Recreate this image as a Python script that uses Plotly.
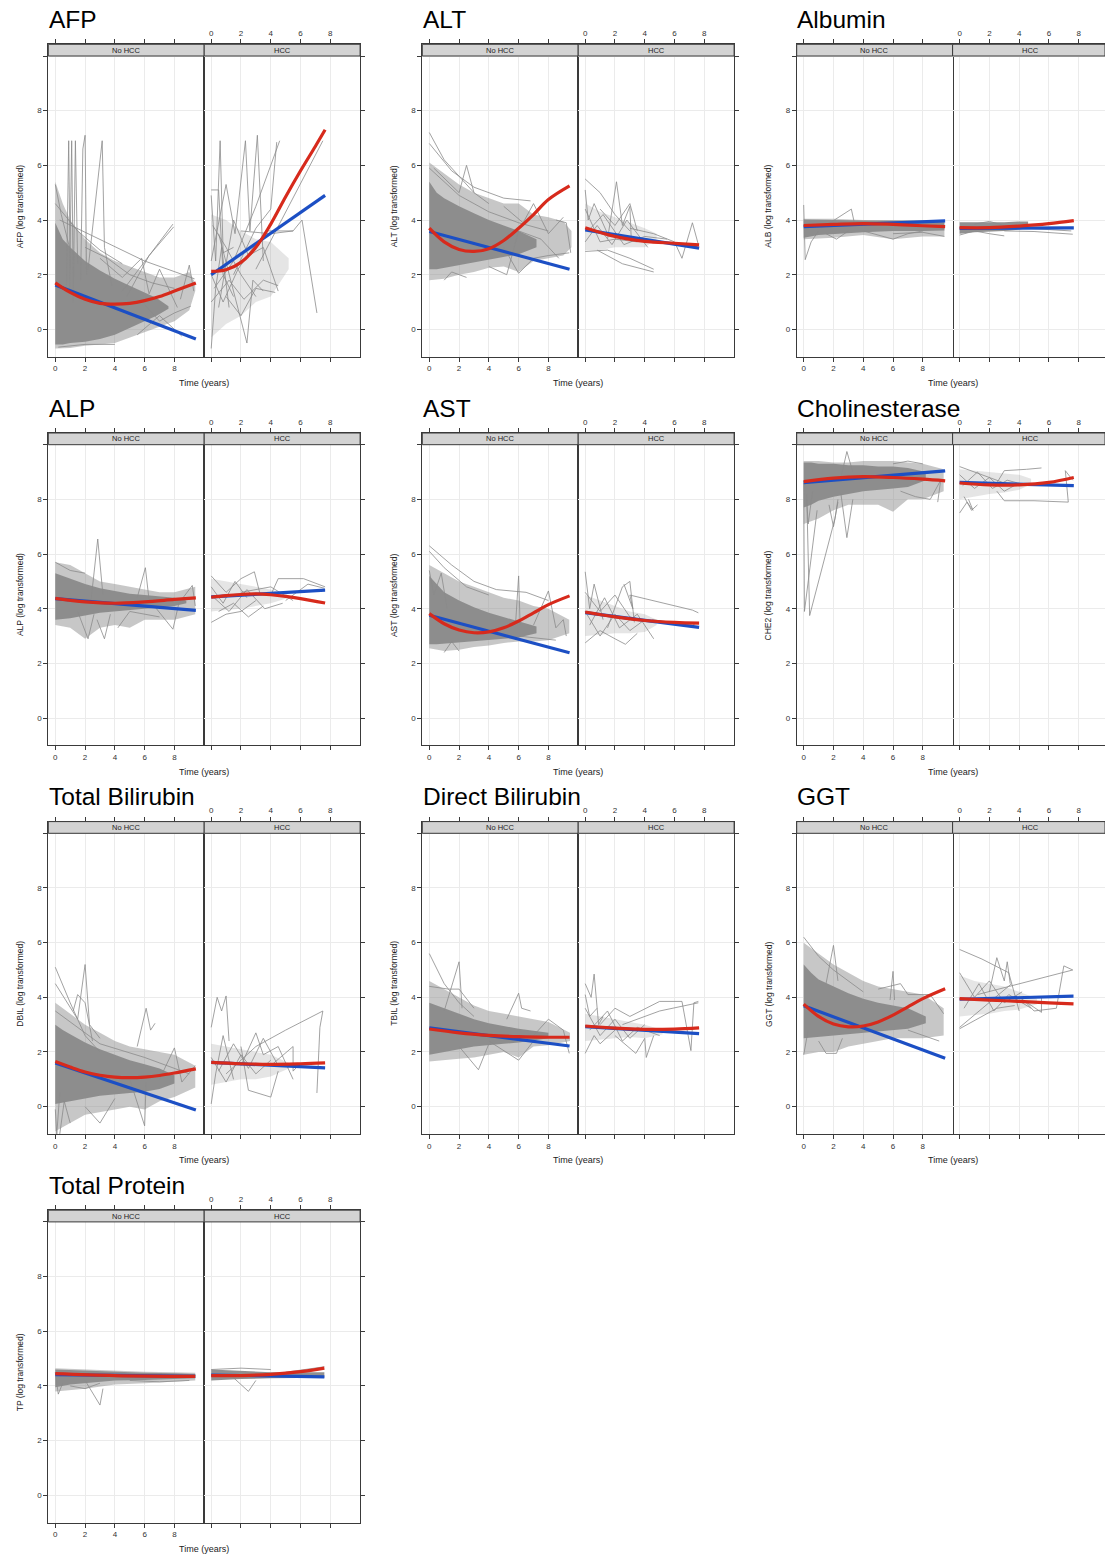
import plotly.graph_objects as go

W, H = 1105, 1557

# ---------------- categories / ticks ----------------
time_ticks = [0, 2, 4, 6, 8]
value_ticks = [0, 2, 4, 6, 8, 10]
value_tick_text = ["0", "2", "4", "6", "8", ""]
groups = ["No HCC", "HCC"]
panel_titles = ["AFP", "ALT", "Albumin", "ALP", "AST", "Cholinesterase",
                "Total Bilirubin", "Direct Bilirubin", "GGT", "Total Protein"]
y_titles = ["AFP (log transformed)", "ALT (log transformed)", "ALB (log transformed)",
            "ALP (log transformed)", "AST (log transformed)", "CHE2 (log transformed)",
            "DBIL (log transformed)", "TBIL (log transformed)", "GGT (log transformed)",
            "TP (log transformed)"]

# ---------------- data ----------------
# band = (time, low, high); paths = individual trajectories [(time, value), ...]
# linear / quad = fitted mean curves [(time, value), ...]

# AFP
afp_no_outer = [(0, -0.7, 5.4), (0.5, -0.7, 4.6), (1, -0.68, 4.0), (2, -0.6, 3.3), (3, -0.55, 2.8), (4, -0.5, 2.5),
                (5, -0.3, 2.3), (6, -0.1, 2.1), (7, 0.1, 1.9), (8, 0.3, 1.9), (9, 0.7, 2.1), (9.4, 1.4, 1.7)]
afp_no_core = [(0, -0.55, 3.9), (0.5, -0.55, 3.3), (1, -0.5, 3.0), (2, -0.45, 2.5), (3, -0.35, 2.15),
               (4, -0.2, 1.85), (5, 0.05, 1.6), (6, 0.3, 1.35), (6.8, 0.5, 1.15), (7.6, 0.75, 0.85)]
afp_no_paths = [
    [(0.75, 1.6), (0.9, 6.9), (1.0, 2.2)],
    [(0.95, 1.4), (1.1, 6.9), (1.2, 1.9)],
    [(1.2, 1.0), (1.35, 6.9), (1.5, 2.4)],
    [(1.7, 1.8), (1.85, 6.6), (2.0, 7.1), (2.1, 2.0)],
    [(2.2, 2.2), (3.15, 6.9), (3.3, 3.0), (3.8, 1.6)],
    [(0.3, 4.0), (3, 3.3), (6, 2.5), (9.35, 1.85)],
    [(4.5, 1.4), (6, 2.5), (7.9, 3.85)],
    [(4.8, 1.2), (6.3, 2.7), (7.95, 3.75)],
    [(8.4, 1.1), (9.0, 2.35), (9.3, 1.4)],
    [(0, 5.3), (0.4, 4.2), (1.0, 2.9)],
    [(3, 2.6), (4.5, 1.9), (5.8, 2.6), (6.3, 1.3), (7, 2.2), (8.2, 0.8)],
    [(0.2, -0.65), (2, -0.55), (4, -0.55)],
    [(5.5, -0.2), (7, 0.5), (8.5, -0.25)],
    [(6, 0.9), (7, 0.3), (8, 0.6), (9.1, 0.85)],
    [(0, 4.6), (1.5, 3.6), (3, 2.9), (4.5, 2.4)],
    [(2, 3.0), (3.5, 2.6), (5, 2.0), (6.5, 1.7), (8, 1.5)],
]
afp_no_linear = [(0, 1.62), (9.44, -0.35)]
afp_no_quad = [(0, 1.7), (1, 1.35), (2, 1.1), (3, 0.95), (4, 0.92), (5, 0.95), (6, 1.05), (7, 1.2), (8, 1.4), (9.44, 1.7)]

afp_hcc_outer = [(0, -0.3, 4.2), (1, 0.2, 4.0), (2, 0.5, 3.6), (3, 1.0, 3.3), (4, 1.2, 3.2), (5.2, 2.2, 2.6)]
afp_hcc_core = []
afp_hcc_paths = [
    [(0, 5.1), (0.5, 5.1), (0.8, 2.0), (1.5, 1.2)],
    [(0, 4.9), (0.3, 2.5), (0.6, 6.9), (0.8, 2.8), (1.5, 3.0)],
    [(0, -0.7), (0.3, 1.5), (0.7, 3.0), (1.2, 0.8)],
    [(0, 2.5), (1.0, 5.3), (1.6, 3.5), (2.3, 6.9), (2.6, 3.6), (3.1, 7.1), (3.5, 2.5)],
    [(0.2, 1.5), (1.5, 2.5), (3, 4.5), (4.6, 6.9)],
    [(1.5, 2.0), (3, 3.7), (4.0, 4.4), (4.4, 6.85)],
    [(0.5, 3.5), (2.4, -0.5), (2.8, 1.8), (3.5, 1.4)],
    [(3.0, 2.2), (5.0, 4.3), (7.5, 6.9)],
    [(2.0, 3.6), (4.0, 3.5), (5.5, 3.6), (6.1, 4.0), (7.1, 0.6)],
    [(1.0, 1.2), (2.0, 0.5), (3.0, 1.5), (4.3, 1.35)],
    [(0, 1.0), (1.2, 1.8), (2.2, 1.1), (3.5, 1.8), (4.5, 1.6)],
    [(0.1, 3.8), (1.0, 3.0), (2.0, 2.0), (3.0, 1.2)],
    [(0.5, 0.8), (1.5, 4.0), (2.5, 2.7), (3.5, 3.0), (4.5, 1.4)],
    [(0, 2.0), (0.8, 1.0), (1.8, 2.2), (2.7, 2.9), (3.8, 3.6), (5.5, 3.6)],
]
afp_hcc_linear = [(0, 2.0), (7.65, 4.9)]
afp_hcc_quad = [(0, 2.12), (1, 2.18), (2, 2.45), (3, 3.0), (4, 3.85), (5, 4.85), (6, 5.8), (7, 6.7), (7.65, 7.3)]

# ALT
alt_no_outer = [(0, 1.8, 6.1), (1, 1.85, 5.7), (2, 2.0, 5.3), (3, 2.1, 5.0), (4, 2.25, 4.8), (5, 2.3, 4.6),
                (6, 2.1, 4.6), (7, 2.5, 4.2), (8, 2.6, 4.1), (9, 2.7, 3.95), (9.55, 3.0, 3.6)]
alt_no_core = [(0, 2.2, 5.4), (0.5, 2.2, 5.0), (1, 2.25, 4.8), (2, 2.35, 4.5), (3, 2.45, 4.25),
               (4, 2.55, 4.0), (5, 2.65, 3.8), (6, 2.75, 3.6), (7.2, 3.0, 3.3)]
alt_no_paths = [
    [(0, 7.2), (1, 6.2), (2, 5.6), (3, 5.0), (4, 4.6)],
    [(0, 6.8), (1.5, 5.8), (3, 5.2), (5, 4.8), (6.8, 4.7)],
    [(0.3, 5.9), (2.0, 5.0), (2.5, 6.0), (3, 5.0)],
    [(8.5, 4.0), (9.2, 3.9), (9.5, 2.8)],
    [(5, 3.0), (6, 2.05), (7, 2.6), (8, 2.7), (9.4, 2.8)],
    [(1, 1.8), (1.5, 2.1), (2.5, 1.9)],
    [(4, 2.3), (5.2, 2.0), (6.0, 3.6), (7.5, 3.3), (8.7, 2.6)],
    [(5, 4.5), (6.3, 3.9), (7, 4.6), (8, 3.5), (9.0, 4.1)],
    [(0, 5.9), (2, 4.9), (4, 4.3), (6, 3.9), (8, 3.6)],
]
alt_no_linear = [(0, 3.58), (9.42, 2.2)]
alt_no_quad = [(0, 3.7), (1, 3.2), (2, 2.92), (3, 2.85), (4, 2.95), (5, 3.25), (6, 3.7), (7, 4.2), (8, 4.75), (9.42, 5.25)]

alt_hcc_outer = [(0, 2.9, 4.6), (1, 2.9, 4.3), (2, 3.0, 4.1), (3, 3.0, 3.9), (4, 3.0, 3.7), (4.8, 3.3, 3.5)]
alt_hcc_core = []
alt_hcc_paths = [
    [(0, 5.5), (1.0, 5.0), (2.0, 4.2), (3.0, 3.6)],
    [(0, 5.1), (0.2, 4.0), (0.6, 4.6), (1.5, 3.5)],
    [(0, 2.85), (1.5, 2.9), (3, 2.6), (4.6, 2.2)],
    [(0.8, 2.9), (2.5, 2.4), (4.6, 2.1)],
    [(1.5, 3.3), (2.1, 5.4), (2.5, 3.8), (3.0, 4.5), (3.1, 3.2)],
    [(1.0, 4.4), (2.0, 3.8), (3.0, 4.6), (3.5, 3.6)],
    [(3.0, 3.7), (4.6, 3.5), (6.0, 3.2), (6.5, 2.6), (7.2, 3.9), (7.6, 3.1)],
    [(0, 4.4), (1, 3.2), (2, 3.3), (3.5, 3.2)],
    [(0.2, 3.6), (1.2, 4.2), (2.6, 3.1), (4.0, 3.4), (5.5, 3.3)],
    [(0, 3.2), (0.8, 3.8), (1.8, 3.1), (2.8, 4.0), (4.2, 3.0)],
]
alt_hcc_linear = [(0, 3.64), (7.65, 2.97)]
alt_hcc_quad = [(0, 3.72), (2, 3.4), (4, 3.22), (6, 3.15), (7.65, 3.09)]

# Albumin
alb_no_outer = [(0, 3.3, 4.05), (2, 3.35, 4.05), (4, 3.45, 4.0), (6, 3.3, 4.0), (8, 3.4, 4.0), (9.45, 3.4, 3.95)]
alb_no_core = [(0, 3.35, 4.02), (1, 3.45, 4.0), (2, 3.5, 4.0), (4, 3.55, 3.98), (6, 3.6, 3.98), (8, 3.6, 3.96), (9.45, 3.62, 3.92)]
alb_no_paths = [
    [(0, 4.55), (0.05, 3.6), (0.1, 2.55), (0.5, 3.2), (1.0, 3.6)],
    [(1.2, 3.7), (3.2, 4.4), (3.4, 3.9)],
    [(4, 3.6), (6, 3.3), (7, 3.5), (8, 3.6)],
    [(6, 3.5), (8, 3.55), (9.45, 3.4)],
    [(1.5, 3.5), (2.2, 3.3), (3, 3.6)],
]
alb_no_linear = [(0, 3.76), (9.5, 3.97)]
alb_no_quad = [(0, 3.8), (2, 3.84), (4, 3.87), (6, 3.84), (8, 3.79), (9.5, 3.76)]

alb_hcc_outer = []
alb_hcc_core = [(0, 3.5, 3.92), (1, 3.55, 3.92), (2, 3.58, 3.92), (3, 3.6, 3.92), (4, 3.65, 3.95), (4.6, 3.7, 3.95)]
alb_hcc_paths = [
    [(3, 3.6), (5, 3.58), (7.6, 3.48)],
    [(0, 3.45), (1, 3.6), (2, 3.5), (3, 3.42)],
    [(1, 3.85), (2, 3.95), (3, 3.8)],
    [(4.5, 3.7), (6, 3.65), (7.5, 3.6)],
]
alb_hcc_linear = [(0, 3.69), (7.67, 3.71)]
alb_hcc_quad = [(0, 3.72), (2, 3.72), (4, 3.78), (6, 3.87), (7.67, 3.98)]

# ALP
alp_no_outer = [(0, 3.4, 5.7), (1, 3.3, 5.6), (2, 2.9, 5.3), (3, 3.3, 5.0), (4, 3.4, 4.9), (5, 3.3, 4.8),
                (6, 3.6, 4.7), (7, 3.6, 4.6), (8, 3.6, 4.6), (9.4, 3.8, 4.8)]
alp_no_core = [(0, 3.6, 5.3), (1, 3.65, 5.1), (2, 3.75, 4.9), (3, 3.85, 4.75), (4, 3.9, 4.65), (5, 3.95, 4.55),
               (6, 4.0, 4.5), (7, 4.05, 4.45), (8, 4.1, 4.4), (8.8, 4.2, 4.3)]
alp_no_paths = [
    [(2.4, 4.3), (2.85, 6.55), (3.2, 4.5)],
    [(5.5, 4.4), (6.05, 5.5), (6.3, 4.3)],
    [(1.5, 3.9), (2.2, 2.9), (2.6, 3.8)],
    [(2.8, 3.6), (3.3, 2.9), (3.7, 3.8)],
    [(6.5, 4.2), (7.9, 3.25), (8.3, 4.2), (9.2, 4.85), (9.4, 4.1)],
    [(4.2, 3.3), (5, 3.9), (7, 3.7)],
    [(0, 5.7), (1, 5.4), (2, 5.3)],
]
alp_no_linear = [(0, 4.37), (9.44, 3.94)]
alp_no_quad = [(0, 4.38), (2, 4.25), (4, 4.2), (6, 4.25), (8, 4.34), (9.44, 4.4)]

alp_hcc_outer = [(0, 3.9, 5.1), (1, 3.95, 5.0), (2, 4.0, 4.9), (3, 4.1, 4.8), (4, 4.2, 4.7), (5.2, 4.4, 4.5)]
alp_hcc_core = []
alp_hcc_paths = [
    [(0, 5.2), (1, 4.6), (2, 5.1), (2.9, 5.35), (3.3, 4.5)],
    [(0, 3.5), (1.0, 3.8), (2.0, 3.9), (3.0, 4.3)],
    [(0.5, 3.9), (1.5, 4.2), (2.5, 3.7), (3.5, 4.1)],
    [(4.0, 4.5), (4.5, 5.1), (6.2, 5.1), (7.65, 4.8)],
    [(2.0, 4.6), (4.0, 4.8), (5.5, 4.3)],
    [(0, 4.8), (0.8, 4.2), (1.6, 5.0), (2.4, 4.4)],
    [(5, 4.3), (6.5, 4.9), (7.6, 4.75)],
    [(0.2, 4.4), (1.2, 3.9), (2.4, 4.7), (3.6, 4.0), (4.8, 4.2)],
]
alp_hcc_linear = [(0, 4.43), (7.65, 4.68)]
alp_hcc_quad = [(0, 4.42), (1, 4.48), (2, 4.52), (3, 4.54), (4, 4.51), (5, 4.45), (6, 4.37), (7.65, 4.21)]

# AST
ast_no_outer = [(0, 2.55, 5.6), (1, 2.45, 5.3), (2, 2.5, 5.0), (3, 2.6, 4.8), (4, 2.65, 4.6), (5, 2.75, 4.4),
                (6, 2.8, 4.3), (7, 2.8, 4.1), (8, 2.85, 4.0), (9.4, 3.1, 3.6)]
ast_no_core = [(0, 2.7, 5.2), (0.5, 2.7, 4.9), (1, 2.7, 4.6), (2, 2.75, 4.3), (3, 2.8, 4.05), (4, 2.85, 3.85),
               (5, 2.9, 3.7), (6, 2.95, 3.55), (7.2, 3.1, 3.35)]
ast_no_paths = [
    [(0, 6.3), (1.5, 5.6), (3, 5.0), (4.5, 4.7), (6.5, 4.6), (8, 4.3)],
    [(0, 6.1), (1, 5.5), (2.5, 4.8), (4, 4.5)],
    [(5.8, 3.5), (6.0, 5.2), (6.1, 3.4)],
    [(7.0, 3.4), (8.0, 4.65), (8.5, 3.3), (9.0, 3.6), (9.2, 3.0)],
    [(1, 2.4), (1.5, 2.8), (2, 2.45)],
    [(6, 3.0), (7.5, 2.9), (8.5, 2.85)],
    [(0, 5.4), (0.3, 4.5), (0.8, 5.3), (1.2, 4.0)],
]
ast_no_linear = [(0, 3.76), (9.42, 2.39)]
ast_no_quad = [(0, 3.82), (1, 3.45), (2, 3.22), (3, 3.12), (4, 3.15), (5, 3.3), (6, 3.55), (7, 3.85), (8, 4.15), (9.42, 4.47)]

ast_hcc_outer = [(0, 3.0, 4.5), (1, 3.05, 4.3), (2, 3.1, 4.1), (3, 3.1, 3.9), (4, 3.15, 3.8), (4.8, 3.4, 3.6)]
ast_hcc_core = []
ast_hcc_paths = [
    [(0, 5.35), (0.3, 4.0), (0.6, 4.9), (1.2, 3.6)],
    [(0, 2.75), (1, 3.2), (2, 2.9), (2.7, 2.7), (3.5, 3.1)],
    [(1.5, 3.3), (2.5, 4.8), (3.0, 5.0), (3.3, 3.5)],
    [(2.6, 4.9), (3.2, 4.0), (3.0, 4.5), (7.2, 3.95), (7.6, 3.85)],
    [(0, 4.6), (1, 3.9), (2, 4.5), (3, 3.7), (4.6, 3.5)],
    [(0.3, 3.4), (1.3, 4.4), (2.3, 3.3), (3.5, 3.8), (4.6, 2.9)],
    [(0, 3.9), (1, 3.0), (2, 3.8), (3, 3.2), (4, 3.6)],
    [(4.5, 3.6), (6, 3.5), (7.2, 3.4), (7.6, 3.5)],
]
ast_hcc_linear = [(0, 3.86), (7.65, 3.32)]
ast_hcc_quad = [(0, 3.88), (2, 3.7), (4, 3.57), (6, 3.5), (7.65, 3.47)]

# Cholinesterase
che_no_outer = [(0, 7.1, 9.4), (1, 7.3, 9.4), (2, 7.6, 9.35), (3, 7.8, 9.35), (4, 7.8, 9.4), (5, 7.8, 9.4),
                (6, 7.55, 9.4), (7, 8.0, 9.35), (8, 8.0, 9.3), (9.4, 8.3, 9.1)]
che_no_core = [(0, 7.7, 9.35), (0.5, 7.8, 9.35), (1, 7.95, 9.3), (2, 8.1, 9.3), (3, 8.2, 9.25), (4, 8.3, 9.25),
               (5, 8.35, 9.2), (6, 8.4, 9.2), (7, 8.45, 9.15), (8.2, 8.7, 9.0)]
che_no_paths = [
    [(0, 8.6), (0.05, 3.9), (0.9, 7.6)],
    [(0.2, 8.2), (0.4, 3.75), (2.1, 7.3), (2.3, 8.0)],
    [(0.2, 8.0), (0.3, 7.1), (0.6, 8.3)],
    [(2.5, 8.8), (2.9, 9.75), (3.3, 9.0)],
    [(2.5, 8.2), (2.9, 6.6), (3.3, 8.0)],
    [(1.7, 7.8), (2.0, 7.0), (2.3, 7.9)],
    [(6.5, 8.3), (7.5, 8.1), (8.5, 8.0), (9.2, 8.7), (9.0, 7.9)],
    [(6, 9.3), (7, 9.4), (8, 9.3)],
]
che_no_linear = [(0, 8.61), (9.5, 9.04)]
che_no_quad = [(0, 8.65), (2, 8.78), (4, 8.83), (6, 8.8), (8, 8.74), (9.5, 8.68)]

che_hcc_outer = [(0, 8.0, 9.1), (1, 8.1, 9.05), (2, 8.2, 9.0), (3, 8.25, 8.95), (4, 8.35, 8.9), (4.8, 8.55, 8.75)]
che_hcc_core = []
che_hcc_paths = [
    [(0, 9.2), (1, 9.0), (2, 8.8), (3, 8.6)],
    [(0, 7.5), (0.5, 7.9), (0.9, 7.6), (0.6, 8.0)],
    [(0.3, 8.1), (0.8, 7.6), (1.2, 7.8)],
    [(2.5, 8.6), (3.0, 9.05), (4.5, 9.1), (5.5, 9.15)],
    [(2.5, 8.3), (3.0, 7.95), (5, 7.95), (7.3, 7.9), (7.1, 9.05), (7.6, 8.7)],
    [(0, 8.9), (1, 8.4), (2, 8.8), (3, 8.3), (4, 8.6)],
    [(0.2, 8.5), (1.2, 9.0), (2.2, 8.4), (3.2, 8.7), (4.6, 8.5)],
]
che_hcc_linear = [(0, 8.62), (7.67, 8.5)]
che_hcc_quad = [(0, 8.6), (2, 8.53), (4, 8.53), (6, 8.62), (7.67, 8.8)]

# Total Bilirubin (DBIL)
dbil_no_outer = [(0, -0.9, 3.8), (1, -0.6, 3.4), (2, -0.3, 3.0), (3, -0.2, 2.7), (4, -0.1, 2.4), (5, 0.0, 2.2),
                 (6, -0.1, 2.1), (7, 0.2, 2.0), (8, 0.35, 1.9), (9.4, 0.7, 1.5)]
dbil_no_core = [(0, 0.1, 3.0), (0.5, 0.15, 2.8), (1, 0.2, 2.65), (2, 0.3, 2.35), (3, 0.4, 2.1), (4, 0.45, 1.9),
                (5, 0.5, 1.7), (6, 0.55, 1.55), (7, 0.65, 1.4), (8, 0.85, 1.15)]
dbil_no_paths = [
    [(0, 5.1), (1, 3.8), (2, 2.6), (3, 2.0)],
    [(0, 4.5), (1.5, 3.2), (2, 5.2), (2.3, 3.0), (3, 2.5)],
    [(1.2, 3.5), (1.5, 4.1), (2, 3.8), (2.5, 2.4)],
    [(5.5, 2.2), (6.1, 3.6), (6.4, 2.8), (6.7, 3.05)],
    [(0, -0.1), (0.1, -1.0), (0.3, 0.5)],
    [(0.3, -1.0), (0.6, 0.2), (1, -0.6)],
    [(5.0, 1.0), (6.0, -0.7), (6.1, 0.9)],
    [(2.0, 0.0), (3.0, -0.6), (4.0, 0.3)],
    [(7, 1.0), (8, 2.15), (8.5, 0.9), (9.4, 1.5)],
    [(0, 3.5), (3, 2.3), (6, 1.8), (9.0, 1.2)],
]
dbil_no_linear = [(0, 1.6), (9.44, -0.12)]
dbil_no_quad = [(0, 1.65), (1, 1.45), (2, 1.27), (3, 1.15), (4, 1.08), (5, 1.06), (6, 1.08), (7, 1.14), (8, 1.23), (9.44, 1.38)]

dbil_hcc_outer = [(0, 0.8, 2.3), (1, 0.9, 2.2), (2, 1.0, 2.1), (3, 1.0, 2.0), (4, 1.1, 1.9), (5.2, 1.4, 1.6)]
dbil_hcc_core = []
dbil_hcc_paths = [
    [(0, 2.9), (0.4, 4.0), (0.7, 3.5), (1.0, 4.05), (1.2, 2.4)],
    [(0, 0.1), (0.3, 1.2), (0.8, 2.6), (1.5, 1.0)],
    [(1.0, 1.2), (3.0, 2.2), (5.0, 2.8), (7.5, 3.5), (7.3, 2.9), (7.1, 0.5)],
    [(2.0, 2.2), (2.5, 0.6), (4.0, 0.35), (4.5, 1.3)],
    [(2.0, 1.5), (3.0, 2.7), (3.5, 1.9), (4.5, 2.2), (5.5, 1.0)],
    [(0, 1.8), (1, 0.9), (2, 1.9), (3, 1.2), (4, 1.7)],
    [(0.5, 1.3), (1.5, 2.3), (2.5, 1.4), (3.5, 2.5), (4.5, 1.5)],
    [(4, 1.5), (5.5, 2.2), (5.5, 1.3), (6.0, 1.6)],
]
dbil_hcc_linear = [(0, 1.62), (7.65, 1.42)]
dbil_hcc_quad = [(0, 1.62), (2, 1.57), (4, 1.55), (6, 1.57), (7.65, 1.6)]

# Direct Bilirubin (TBIL)
tbil_no_outer = [(0, 1.65, 4.6), (1, 1.7, 4.3), (2, 1.75, 4.0), (3, 1.8, 3.7), (4, 1.9, 3.5), (5, 2.0, 3.4),
                 (6, 1.8, 3.3), (7, 2.2, 3.2), (8, 2.25, 3.1), (9.45, 2.4, 2.7)]
tbil_no_core = [(0, 1.9, 3.8), (0.5, 1.95, 3.7), (1, 2.0, 3.6), (2, 2.1, 3.4), (3, 2.2, 3.2), (4, 2.25, 3.05),
                (5, 2.3, 2.95), (6, 2.35, 2.85), (7, 2.42, 2.78), (8, 2.5, 2.7)]
tbil_no_paths = [
    [(0, 5.6), (1, 4.5), (2, 3.8), (3, 3.3)],
    [(1, 3.5), (2, 5.3), (2.2, 3.6)],
    [(2, 2.2), (3.3, 1.35), (4, 2.3)],
    [(5.2, 3.2), (6.0, 4.15), (6.2, 3.6), (6.8, 3.5)],
    [(4, 2.4), (6, 1.7), (7, 2.4)],
    [(7, 2.6), (8, 3.2), (9, 2.8), (9.4, 1.95)],
    [(0, 4.4), (1.3, 4.3), (2, 4.3), (3, 3.6)],
]
tbil_no_linear = [(0, 2.88), (9.42, 2.22)]
tbil_no_quad = [(0, 2.84), (2, 2.7), (4, 2.61), (6, 2.56), (8, 2.54), (9.42, 2.54)]

tbil_hcc_outer = [(0, 2.4, 3.4), (1, 2.45, 3.3), (2, 2.5, 3.2), (3, 2.55, 3.1), (4, 2.5, 3.0), (5.2, 2.65, 2.8)]
tbil_hcc_core = []
tbil_hcc_paths = [
    [(0, 4.5), (0.4, 4.0), (0.6, 4.85), (0.9, 3.0), (1.2, 3.3)],
    [(0, 1.95), (0.6, 2.6), (1.0, 2.3), (2.0, 2.8)],
    [(1.0, 3.0), (2.0, 3.6), (3.0, 3.3), (5.0, 3.85), (6.5, 3.85), (7.1, 2.05), (7.3, 3.8), (7.6, 3.85)],
    [(2.5, 3.0), (5.0, 3.5), (7.6, 3.8)],
    [(2.0, 2.6), (3.4, 1.95), (4.0, 2.5), (4.1, 1.8), (4.6, 2.6)],
    [(0, 3.6), (1, 2.6), (2, 3.2), (3, 2.5), (4, 3.0)],
    [(0.3, 2.8), (1.5, 3.5), (2.5, 2.4), (3.5, 2.9), (5.0, 2.6)],
    [(0, 4.1), (0.3, 3.3), (0.8, 3.6)],
]
tbil_hcc_linear = [(0, 2.93), (7.65, 2.67)]
tbil_hcc_quad = [(0, 2.95), (2, 2.87), (4, 2.83), (6, 2.84), (7.65, 2.88)]

# GGT
ggt_no_outer = [(0, 1.9, 6.0), (1, 2.0, 5.6), (2, 2.0, 5.2), (3, 2.2, 4.9), (4, 2.3, 4.6), (5, 2.4, 4.4),
                (6, 2.5, 4.3), (7, 2.5, 4.2), (8, 2.5, 4.1), (9.4, 2.6, 3.6)]
ggt_no_core = [(0, 2.5, 5.2), (0.5, 2.5, 4.9), (1, 2.55, 4.65), (2, 2.6, 4.4), (3, 2.65, 4.15), (4, 2.7, 3.95),
               (5, 2.75, 3.8), (6, 2.8, 3.7), (7, 2.85, 3.6), (8.2, 3.05, 3.3)]
ggt_no_paths = [
    [(0, 6.2), (1, 5.5), (2, 5.0), (3, 4.6), (4, 4.2)],
    [(1.5, 4.5), (2, 5.9), (2.3, 4.6)],
    [(5.8, 3.9), (6.0, 4.95), (6.1, 3.9)],
    [(5, 4.3), (6.5, 4.5), (7, 4.1), (8.5, 4.1), (9.4, 3.4)],
    [(1, 2.4), (1.5, 1.95), (2.2, 1.95), (2.6, 2.5)],
    [(7, 2.8), (8, 2.6), (9.1, 2.4)],
    [(0, 1.9), (0.3, 2.8)],
]
ggt_no_linear = [(0, 3.69), (9.5, 1.77)]
ggt_no_quad = [(0, 3.75), (1, 3.3), (2, 3.02), (3, 2.92), (4, 2.95), (5, 3.1), (6, 3.35), (7, 3.65), (8, 3.95), (9.5, 4.31)]

ggt_hcc_outer = [(0, 3.3, 4.8), (1, 3.35, 4.6), (2, 3.4, 4.5), (3, 3.5, 4.4), (4, 3.55, 4.2), (5.2, 3.75, 3.95)]
ggt_hcc_core = []
ggt_hcc_paths = [
    [(0, 5.75), (1.5, 5.4), (3.3, 4.9), (3.5, 4.5)],
    [(0, 2.85), (1.5, 3.3), (2.5, 3.6), (3.7, 3.7)],
    [(0, 2.9), (3.5, 4.5), (4.0, 3.5)],
    [(2.0, 4.2), (2.5, 5.45), (3.0, 4.6), (3.2, 5.3), (3.4, 4.5)],
    [(1.2, 4.1), (4, 4.5), (7.6, 5.0), (7.0, 5.15), (6.5, 3.6), (5.0, 3.5), (4.3, 3.9)],
    [(0, 4.9), (1, 4.0), (2, 4.6), (3, 3.8), (4.2, 4.2)],
    [(0.3, 3.6), (1.3, 4.5), (2.3, 3.5), (3.3, 4.1), (4.8, 3.6)],
    [(4, 4.0), (5.5, 3.45), (5.5, 4.0)],
]
ggt_hcc_linear = [(0, 3.93), (7.65, 4.04)]
ggt_hcc_quad = [(0, 3.95), (2, 3.9), (4, 3.85), (6, 3.8), (7.65, 3.76)]

# Total Protein
tp_no_outer = [(0, 3.8, 4.65), (2, 3.9, 4.6), (4, 4.05, 4.55), (6, 4.1, 4.52), (8, 4.15, 4.5), (9.4, 4.2, 4.48)]
tp_no_core = [(0, 3.95, 4.6), (1, 4.05, 4.58), (2, 4.1, 4.55), (4, 4.2, 4.5), (6, 4.22, 4.48), (8, 4.25, 4.46), (9.4, 4.28, 4.44)]
tp_no_paths = [
    [(0, 4.5), (0.2, 3.7), (0.5, 4.1)],
    [(2.0, 4.2), (3.0, 3.3), (3.2, 3.9)],
    [(1, 4.0), (2, 3.9), (3, 4.1)],
    [(5, 4.2), (7, 4.15), (9, 4.2)],
]
tp_no_linear = [(0, 4.41), (9.4, 4.35)]
tp_no_quad = [(0, 4.45), (4, 4.38), (9.4, 4.35)]

tp_hcc_outer = []
tp_hcc_core = [(0, 4.2, 4.6), (2, 4.25, 4.55), (4, 4.28, 4.5), (6, 4.3, 4.5), (7.6, 4.3, 4.5)]
tp_hcc_paths = [
    [(1.5, 4.3), (2.5, 3.8), (3, 4.2)],
    [(0, 4.6), (2, 4.65), (4, 4.6)],
    [(5, 4.5), (7.6, 4.7)],
]
tp_hcc_linear = [(0, 4.4), (7.6, 4.33)]
tp_hcc_quad = [(0, 4.38), (2, 4.38), (4, 4.42), (6, 4.52), (7.6, 4.65)]

facets = [
    [(afp_no_outer, afp_no_core, afp_no_paths, afp_no_linear, afp_no_quad),
     (afp_hcc_outer, afp_hcc_core, afp_hcc_paths, afp_hcc_linear, afp_hcc_quad)],
    [(alt_no_outer, alt_no_core, alt_no_paths, alt_no_linear, alt_no_quad),
     (alt_hcc_outer, alt_hcc_core, alt_hcc_paths, alt_hcc_linear, alt_hcc_quad)],
    [(alb_no_outer, alb_no_core, alb_no_paths, alb_no_linear, alb_no_quad),
     (alb_hcc_outer, alb_hcc_core, alb_hcc_paths, alb_hcc_linear, alb_hcc_quad)],
    [(alp_no_outer, alp_no_core, alp_no_paths, alp_no_linear, alp_no_quad),
     (alp_hcc_outer, alp_hcc_core, alp_hcc_paths, alp_hcc_linear, alp_hcc_quad)],
    [(ast_no_outer, ast_no_core, ast_no_paths, ast_no_linear, ast_no_quad),
     (ast_hcc_outer, ast_hcc_core, ast_hcc_paths, ast_hcc_linear, ast_hcc_quad)],
    [(che_no_outer, che_no_core, che_no_paths, che_no_linear, che_no_quad),
     (che_hcc_outer, che_hcc_core, che_hcc_paths, che_hcc_linear, che_hcc_quad)],
    [(dbil_no_outer, dbil_no_core, dbil_no_paths, dbil_no_linear, dbil_no_quad),
     (dbil_hcc_outer, dbil_hcc_core, dbil_hcc_paths, dbil_hcc_linear, dbil_hcc_quad)],
    [(tbil_no_outer, tbil_no_core, tbil_no_paths, tbil_no_linear, tbil_no_quad),
     (tbil_hcc_outer, tbil_hcc_core, tbil_hcc_paths, tbil_hcc_linear, tbil_hcc_quad)],
    [(ggt_no_outer, ggt_no_core, ggt_no_paths, ggt_no_linear, ggt_no_quad),
     (ggt_hcc_outer, ggt_hcc_core, ggt_hcc_paths, ggt_hcc_linear, ggt_hcc_quad)],
    [(tp_no_outer, tp_no_core, tp_no_paths, tp_no_linear, tp_no_quad),
     (tp_hcc_outer, tp_hcc_core, tp_hcc_paths, tp_hcc_linear, tp_hcc_quad)],
]

# ---------------- styling / geometry ----------------
FONT = "Liberation Sans, Arial, Helvetica, sans-serif"
GRAY_LINE = "#8a8a8a"
BLUE = "#1c4fc4"
RED = "#d72a1c"
AXIS_COL = "#3a3a3a"
GRID_COL = "#ebebeb"
STRIP_FILL = "#d3d3d3"

COL_OFF = [0.0, 374.0, 748.4]
ROW_OFF = [0.0, 388.7, 777.3, 1165.9]
BOX_L, BOX_DIV, BOX_R = 48.3, 204.2, 360.1
Y_TOP, Y_STRIP, Y_BOT = 44.3, 56.0, 356.7
X_LO, X_HI = -0.47, 10.0
Y_LO = -1.0
Y_HI = 10 + (Y_STRIP - Y_TOP) * (10 - Y_LO) / (Y_BOT - Y_STRIP)
X_PER_PX = (X_HI - X_LO) / (BOX_DIV - BOX_L)


def px(xp):
    return xp / W


def py(yp):
    return 1 - yp / H


fig = go.Figure()
layout = {}
shapes = []
annotations = []


def band_trace(band, xa, ya, color):
    ts = [b[0] for b in band]
    lo = [b[1] for b in band]
    hi = [b[2] for b in band]
    return go.Scatter(x=ts + ts[::-1], y=hi + lo[::-1], mode="lines", fill="toself",
                      fillcolor=color, line=dict(width=0),
                      xaxis=xa, yaxis=ya, hoverinfo="skip", showlegend=False)


for i, title in enumerate(panel_titles):
    col, row = i % 3, i // 3
    ox, oy = COL_OFF[col], ROW_OFF[row]
    ydom = [py(oy + Y_BOT), py(oy + Y_TOP)]
    for g in range(2):
        n = 2 * i + g + 1
        xa = "x" if n == 1 else f"x{n}"
        ya = "y" if n == 1 else f"y{n}"
        xkey = "xaxis" if n == 1 else f"xaxis{n}"
        ykey = "yaxis" if n == 1 else f"yaxis{n}"
        p0 = ox + (BOX_L if g == 0 else BOX_DIV)
        p1 = ox + (BOX_DIV if g == 0 else BOX_R)
        clipped = p1 > W
        if clipped:
            xhi = X_LO + (W - p0) * X_PER_PX
            p1 = W
        else:
            xhi = X_HI

        layout[xkey] = dict(
            domain=[px(p0), px(p1)], range=[X_LO, xhi], anchor=ya,
            tickmode="array", tickvals=time_ticks, ticktext=[str(t) for t in time_ticks],
            showgrid=True, gridcolor=GRID_COL, gridwidth=1, zeroline=False,
            showline=True, linecolor=AXIS_COL, linewidth=1, mirror="ticks",
            ticks="outside", ticklen=4, tickcolor=AXIS_COL, tickwidth=1,
            side="bottom" if g == 0 else "top",
            tickfont=dict(size=8, color="#333333", family=FONT),
            fixedrange=True,
        )
        if g == 0:
            layout[ykey] = dict(
                domain=ydom, range=[Y_LO, Y_HI], anchor=xa,
                tickmode="array", tickvals=value_ticks, ticktext=value_tick_text,
                showgrid=True, gridcolor=GRID_COL, gridwidth=1, zeroline=False,
                showline=True, linecolor=AXIS_COL, linewidth=1, mirror=True,
                ticks="outside", ticklen=4, tickcolor=AXIS_COL, tickwidth=1, side="left",
                tickfont=dict(size=8, color="#333333", family=FONT), fixedrange=True,
            )
        else:
            layout[ykey] = dict(
                domain=ydom, range=[Y_LO, Y_HI], anchor=xa,
                tickmode="array", tickvals=value_ticks, ticktext=value_tick_text,
                showgrid=True, gridcolor=GRID_COL, gridwidth=1, zeroline=False,
                showline=not clipped, linecolor=AXIS_COL, linewidth=1, mirror=True,
                ticks="" if clipped else "outside", ticklen=4, tickcolor=AXIS_COL, tickwidth=1,
                side="right", showticklabels=False, fixedrange=True,
            )

        outer, core, paths, linear, quad = facets[i][g]
        if outer:
            col_outer = "rgba(138,138,138,0.48)" if g == 0 else "rgba(138,138,138,0.22)"
            fig.add_trace(band_trace(outer, xa, ya, col_outer))
        if core:
            fig.add_trace(band_trace(core, xa, ya, "rgba(138,138,138,0.95)"))
        if paths:
            xs, ys = [], []
            for path in paths:
                xs += [pt[0] for pt in path] + [None]
                ys += [pt[1] for pt in path] + [None]
            fig.add_trace(go.Scatter(x=xs, y=ys, mode="lines", line=dict(color=GRAY_LINE, width=0.8),
                                     xaxis=xa, yaxis=ya, hoverinfo="skip", showlegend=False,
                                     connectgaps=False))
        fig.add_trace(go.Scatter(x=[p[0] for p in linear], y=[p[1] for p in linear], mode="lines",
                                 line=dict(color=BLUE, width=3.2), xaxis=xa, yaxis=ya,
                                 hoverinfo="skip", showlegend=False))
        fig.add_trace(go.Scatter(x=[p[0] for p in quad], y=[p[1] for p in quad], mode="lines",
                                 line=dict(color=RED, width=3.2, shape="spline", smoothing=1.0),
                                 xaxis=xa, yaxis=ya, hoverinfo="skip", showlegend=False))

        # strip
        shapes.append(dict(type="rect", xref="paper", yref="paper",
                           x0=px(p0), x1=px(p1), y0=py(oy + Y_STRIP), y1=py(oy + Y_TOP),
                           fillcolor=STRIP_FILL, line=dict(color=AXIS_COL, width=1), layer="above"))
        sx = ox + (BOX_L + BOX_DIV) / 2 if g == 0 else ox + (BOX_DIV + BOX_R) / 2
        annotations.append(dict(text=groups[g], x=px(sx), y=py(oy + (Y_TOP + Y_STRIP) / 2),
                                xref="paper", yref="paper", xanchor="center", yanchor="middle",
                                showarrow=False, font=dict(size=7.5, color="#222222", family=FONT)))

    # panel title
    annotations.append(dict(text=title, x=px(ox + 46.5), y=py(oy + 19.5), xref="paper", yref="paper",
                            xanchor="left", yanchor="middle", showarrow=False,
                            font=dict(size=24.5, color="#000000", family=FONT)))
    # y title
    annotations.append(dict(text=y_titles[i], x=px(ox + 20), y=py(oy + (Y_STRIP + Y_BOT) / 2),
                            xref="paper", yref="paper", xanchor="center", yanchor="middle",
                            textangle=-90, showarrow=False,
                            font=dict(size=8.5, color="#222222", family=FONT)))
    # x title
    annotations.append(dict(text="Time (years)", x=px(ox + BOX_DIV), y=py(oy + 383), xref="paper",
                            yref="paper", xanchor="center", yanchor="middle", showarrow=False,
                            font=dict(size=9, color="#222222", family=FONT)))

fig.update_layout(
    width=W, height=H, autosize=False,
    margin=dict(l=0, r=0, t=0, b=0, pad=0),
    paper_bgcolor="white", plot_bgcolor="white",
    showlegend=False, shapes=shapes, annotations=annotations,
    font=dict(family=FONT),
    **layout,
)

fig.write_html("out.html", config={"displayModeBar": False, "staticPlot": True},
               post_script="document.body.style.margin='0px';document.body.style.padding='0px';")
